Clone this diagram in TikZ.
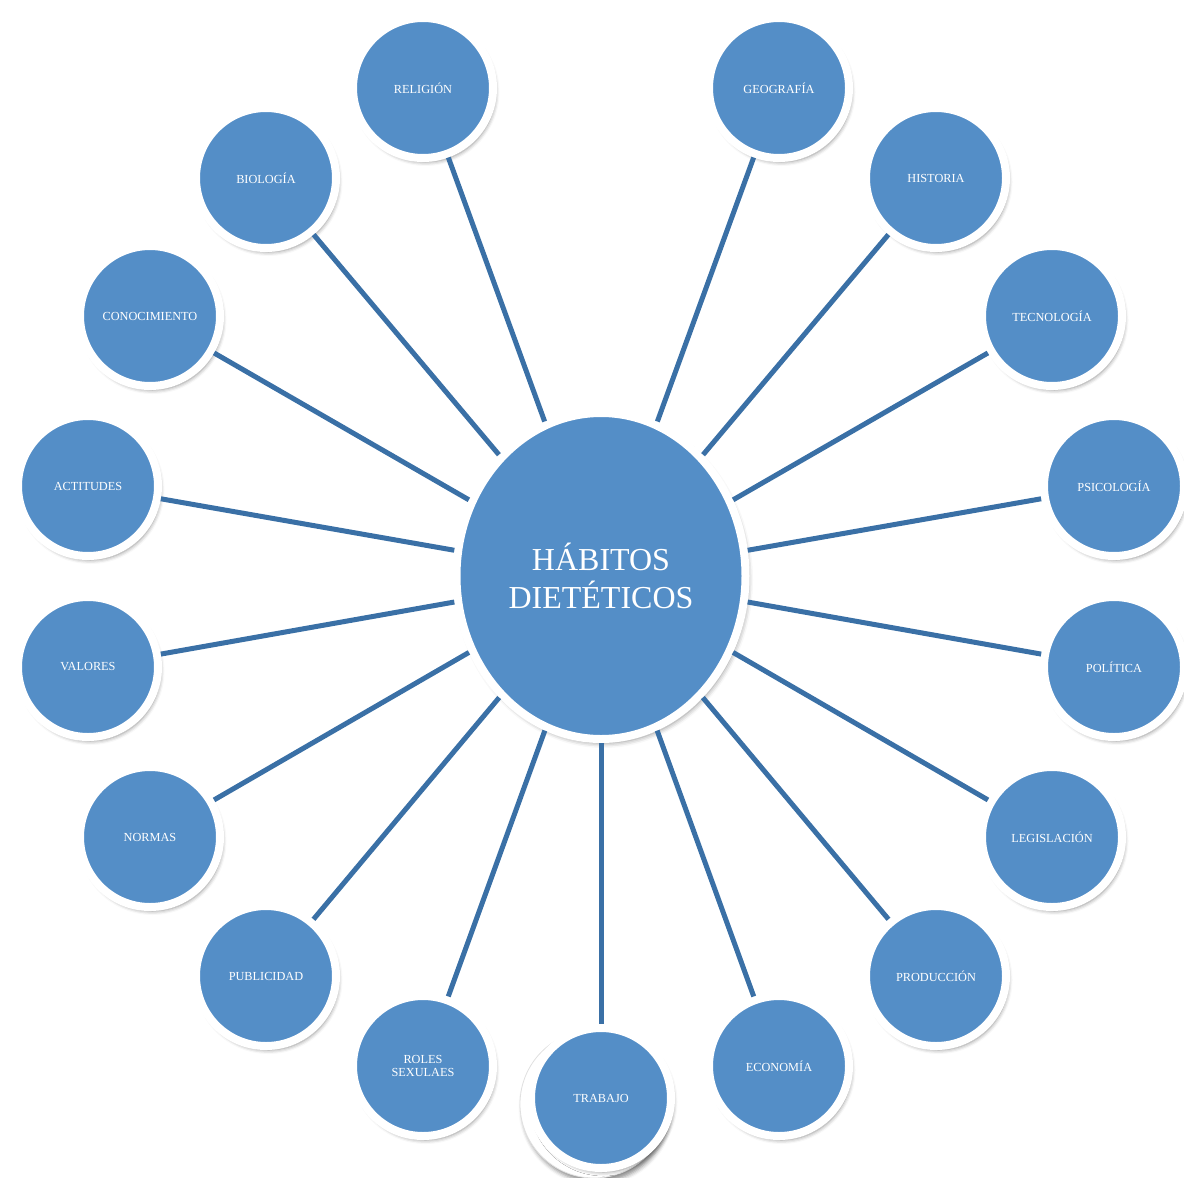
\documentclass[tikz,border=0pt]{standalone}
\usepackage{fontspec}
\setmainfont{Liberation Serif}
\usetikzlibrary{shapes.geometric,shadows.blur}
\definecolor{bfill}{RGB}{84,142,199}
\definecolor{bline}{RGB}{58,112,166}
\tikzset{
  sat/.style={circle, fill=bfill, draw=white, line width=8pt, minimum size=140pt, inner sep=0pt,
    text=white, font=\fontsize{12.3}{13}\selectfont, align=center,
    blur shadow={shadow xshift=2.5pt, shadow yshift=-4pt, shadow blur radius=4pt, shadow opacity=45}},
  hub/.style={ellipse, fill=bfill, draw=white, line width=8pt, minimum width=289pt, minimum height=326pt, inner sep=0pt,
    text=white, font=\fontsize{32}{38}\selectfont, align=center,
    blur shadow={shadow xshift=2.5pt, shadow yshift=-4pt, shadow blur radius=5pt, shadow opacity=45}},
  conn/.style={draw=bline, line width=5pt},
  ghost/.style={circle, fill=white, draw=black!12, line width=0.8pt, minimum size=148pt, inner sep=0pt,
    blur shadow={shadow xshift=2.5pt, shadow yshift=-4pt, shadow blur radius=4pt, shadow opacity=45}}
}
\begin{document}
\begin{tikzpicture}[x=1pt,y=-1pt]
\useasboundingbox (0,0) rectangle (1184,1178);
\node[ghost] (trabajoback) at (594,1104) {};
\node[hub] (c) at (601,576) {HÁBITOS\\DIETÉTICOS};
\node[sat] (rel) at (423,88) {RELIGIÓN};
\node[sat] (geo) at (779,88) {GEOGRAFÍA};
\node[sat] (bio) at (266,178) {BIOLOGÍA};
\node[sat] (his) at (936,178) {HISTORIA};
\node[sat] (con) at (150,316) {CONOCIMIENTO};
\node[sat] (tec) at (1052,316) {TECNOLOGÍA};
\node[sat] (act) at (88,486) {ACTITUDES};
\node[sat] (psi) at (1114,486) {PSICOLOGÍA};
\node[sat] (val) at (88,667) {VALORES};
\node[sat] (pol) at (1114,667) {POLÍTICA};
\node[sat] (nor) at (150,837) {NORMAS};
\node[sat] (leg) at (1052,837) {LEGISLACIÓN};
\node[sat] (pub) at (266,976) {PUBLICIDAD};
\node[sat] (pro) at (936,976) {PRODUCCIÓN};
\node[sat] (rol) at (423,1066) {ROLES\\SEXULAES};
\node[sat] (eco) at (779,1066) {ECONOMÍA};
\node[sat] (tra) at (601,1098) {TRABAJO};
\foreach \n in {rel,geo,bio,his,con,tec,act,psi,val,pol,nor,leg,pub,pro,rol,eco}
  \draw[conn] (c) -- (\n);
\draw[conn] (c.south) -- (tra.north);
\end{tikzpicture}
\end{document}
